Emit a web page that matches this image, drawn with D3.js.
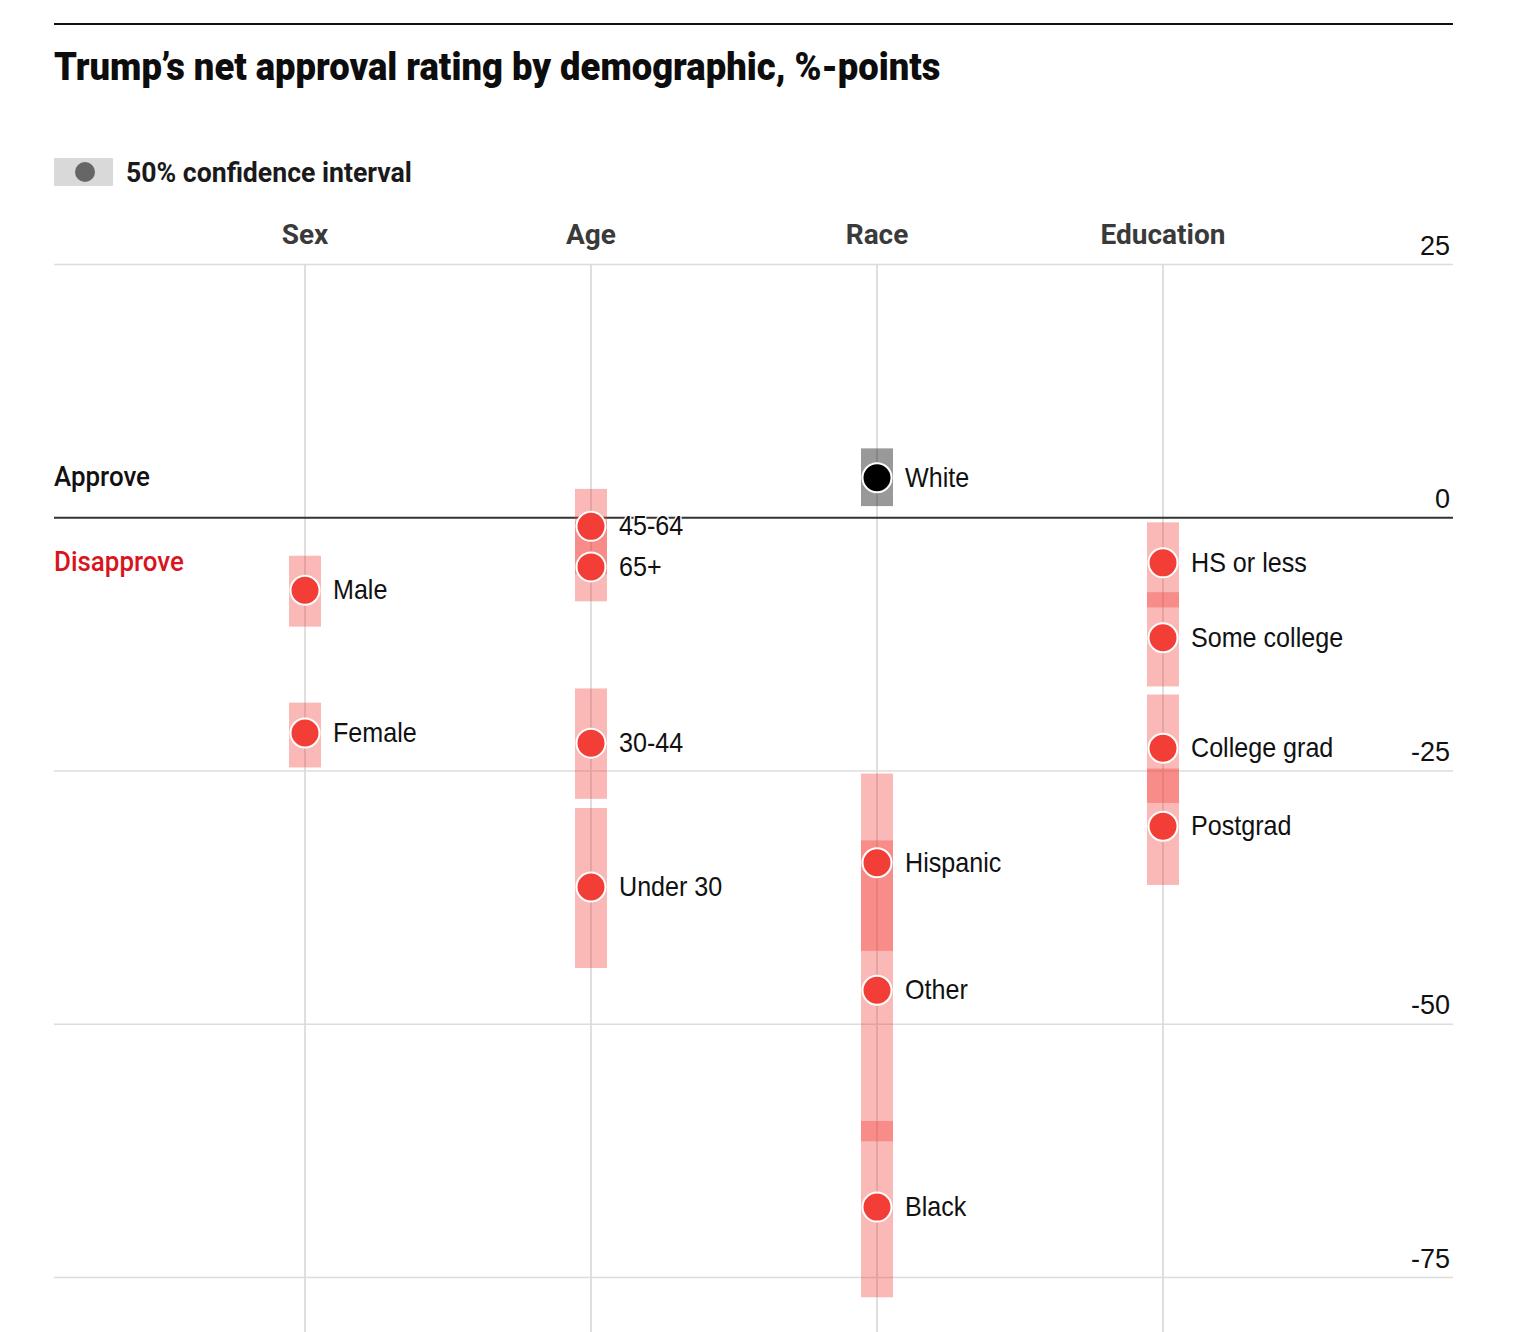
<!DOCTYPE html>
<html>
<head>
<meta charset="utf-8">
<script src="https://cdn.jsdelivr.net/npm/d3@7"></script>
<style>
  body { margin: 0; background: #fff; }
  svg { display: block; }
  .cond { font-family: Roboto, "Liberation Sans", sans-serif; }
  .lbl { font-family: "Liberation Sans", Arial, sans-serif; }
</style>
</head>
<body>
<svg id="chart" width="1540" height="1332"></svg>
<script>
// 데이터 (그림에서 읽은 값, %-포인트)
const groups = ["Sex", "Age", "Race", "Education"];
const labels = ["Male", "Female", "45-64", "65+", "30-44", "Under 30",
  "White", "Hispanic", "Other", "Black",
  "HS or less", "Some college", "College grad", "Postgrad"];
const groupOf = ["Sex", "Sex", "Age", "Age", "Age", "Age",
  "Race", "Race", "Race", "Race",
  "Education", "Education", "Education", "Education"];
const values = [-7.2, -21.3, -0.9, -4.9, -22.3, -36.5,
  3.9, -34.1, -46.7, -68.1,
  -4.5, -11.9, -22.8, -30.5];
const ciHigh = [-3.8, -18.3, 2.8, -0.4, -16.9, -28.7,
  6.8, -25.3, -31.9, -59.6,
  -0.5, -7.4, -17.5, -24.8];
const ciLow = [-10.8, -24.7, -5.6, -8.3, -27.8, -44.5,
  1.1, -42.8, -61.6, -77.0,
  -8.9, -16.7, -28.2, -36.3];
const yTicks = [25, 0, -25, -50, -75];

const svg = d3.select("#chart");
const left = 54, right = 1453;

// 스케일
const x = d3.scalePoint().domain(groups).range([305, 1163]);
const y = d3.scaleLinear().domain([-75, 25]).range([1277, 264]);

const red = "#f23e37";

// 맨 위 검은 선
svg.append("line")
  .attr("x1", left).attr("x2", right)
  .attr("y1", 24).attr("y2", 24)
  .attr("stroke", "#111").attr("stroke-width", 2);

// 가로로 줄인 글꼴 (Milo 느낌)
function condText(sel, tx, ty, sx) {
  return sel.attr("transform", `translate(${tx},${ty}) scale(${sx},1)`);
}
// 폭을 맞춰서 가로 비율 계산
function fitWidth(sel, tx, ty, w) {
  const len = sel.node().getComputedTextLength();
  return condText(sel, tx, ty, w / len);
}

// 제목
fitWidth(svg.append("text").attr("class", "cond")
  .attr("font-size", 38).attr("font-weight", 900).attr("fill", "#0d0d0d")
  .text("Trump’s net approval rating by demographic, %-points"), left, 80, 887);

// 범례
svg.append("rect").attr("x", left).attr("y", 158).attr("width", 59).attr("height", 28)
  .attr("fill", "#d9d9d9");
svg.append("circle").attr("cx", 85).attr("cy", 172).attr("r", 10).attr("fill", "#666");
fitWidth(svg.append("text").attr("class", "cond")
  .attr("font-size", 28).attr("font-weight", 700).attr("fill", "#1a1a1a")
  .text("50% confidence interval"), 126, 182, 286);

// 가로 격자선 + 눈금 라벨
const axis = svg.append("g").attr("transform", `translate(${left},0)`)
  .call(d3.axisLeft(y).tickValues(yTicks).tickSize(-(right - left)).tickFormat(d3.format("d")));
axis.select(".domain").remove();
axis.selectAll(".tick line")
  .attr("stroke", d => d === 0 ? "#333" : "#dcdcdc")
  .attr("stroke-width", d => d === 0 ? 2 : 1.5);
axis.selectAll(".tick text")
  .attr("class", "lbl")
  .attr("x", right - left - 3).attr("dy", -10)
  .attr("text-anchor", "end")
  .attr("font-size", 27).attr("fill", "#111")
  .text(d => d3.format("d")(d).replace("−", "-"));

// 세로 격자선 + 그룹 제목
groups.forEach(gname => {
  svg.insert("line", ":first-child")
    .attr("x1", x(gname)).attr("x2", x(gname))
    .attr("y1", y(25)).attr("y2", 1332)
    .attr("stroke", "#d4d4d4").attr("stroke-width", 1.5);
  condText(svg.append("text").attr("class", "cond"), x(gname), 244, 1.0)
    .attr("text-anchor", "middle")
    .attr("font-size", 28).attr("font-weight", 700).attr("fill", "#3a3a3a")
    .text(gname);
});

// Approve / Disapprove
condText(svg.append("text").attr("class", "cond"), left, 486, 0.96)
  .attr("font-size", 27).attr("font-weight", 500).attr("fill", "#111")
  .text("Approve");
condText(svg.append("text").attr("class", "cond"), left, 571, 0.96)
  .attr("font-size", 27).attr("font-weight", 500).attr("fill", "#d9141c")
  .text("Disapprove");

// 신뢰구간 막대
const idx = d3.range(values.length);
const isWhite = i => values[i] > 0;
svg.append("g").selectAll("rect").data(idx).join("rect")
  .attr("x", i => x(groupOf[i]) - 16)
  .attr("width", 32)
  .attr("y", i => y(ciHigh[i]))
  .attr("height", i => y(ciLow[i]) - y(ciHigh[i]))
  .attr("fill", i => isWhite(i) ? "#000" : red)
  .attr("fill-opacity", i => isWhite(i) ? 0.4 : 0.36);

// 점
svg.append("g").selectAll("circle").data(idx).join("circle")
  .attr("cx", i => x(groupOf[i]))
  .attr("cy", i => y(values[i]))
  .attr("r", 14.5)
  .attr("fill", i => isWhite(i) ? "#000" : red)
  .attr("stroke", "#fff").attr("stroke-width", 2);

// 점 라벨
svg.append("g").selectAll("text").data(idx).join("text")
  .attr("class", "lbl")
  .attr("transform", i => `translate(${x(groupOf[i]) + 28},${y(values[i]) + 9}) scale(0.93,1)`)
  .attr("font-size", 27).attr("fill", "#111")
  .attr("stroke", "#fff").attr("stroke-width", 3).attr("paint-order", "stroke")
  .text(i => labels[i]);
</script>
</body>
</html>
